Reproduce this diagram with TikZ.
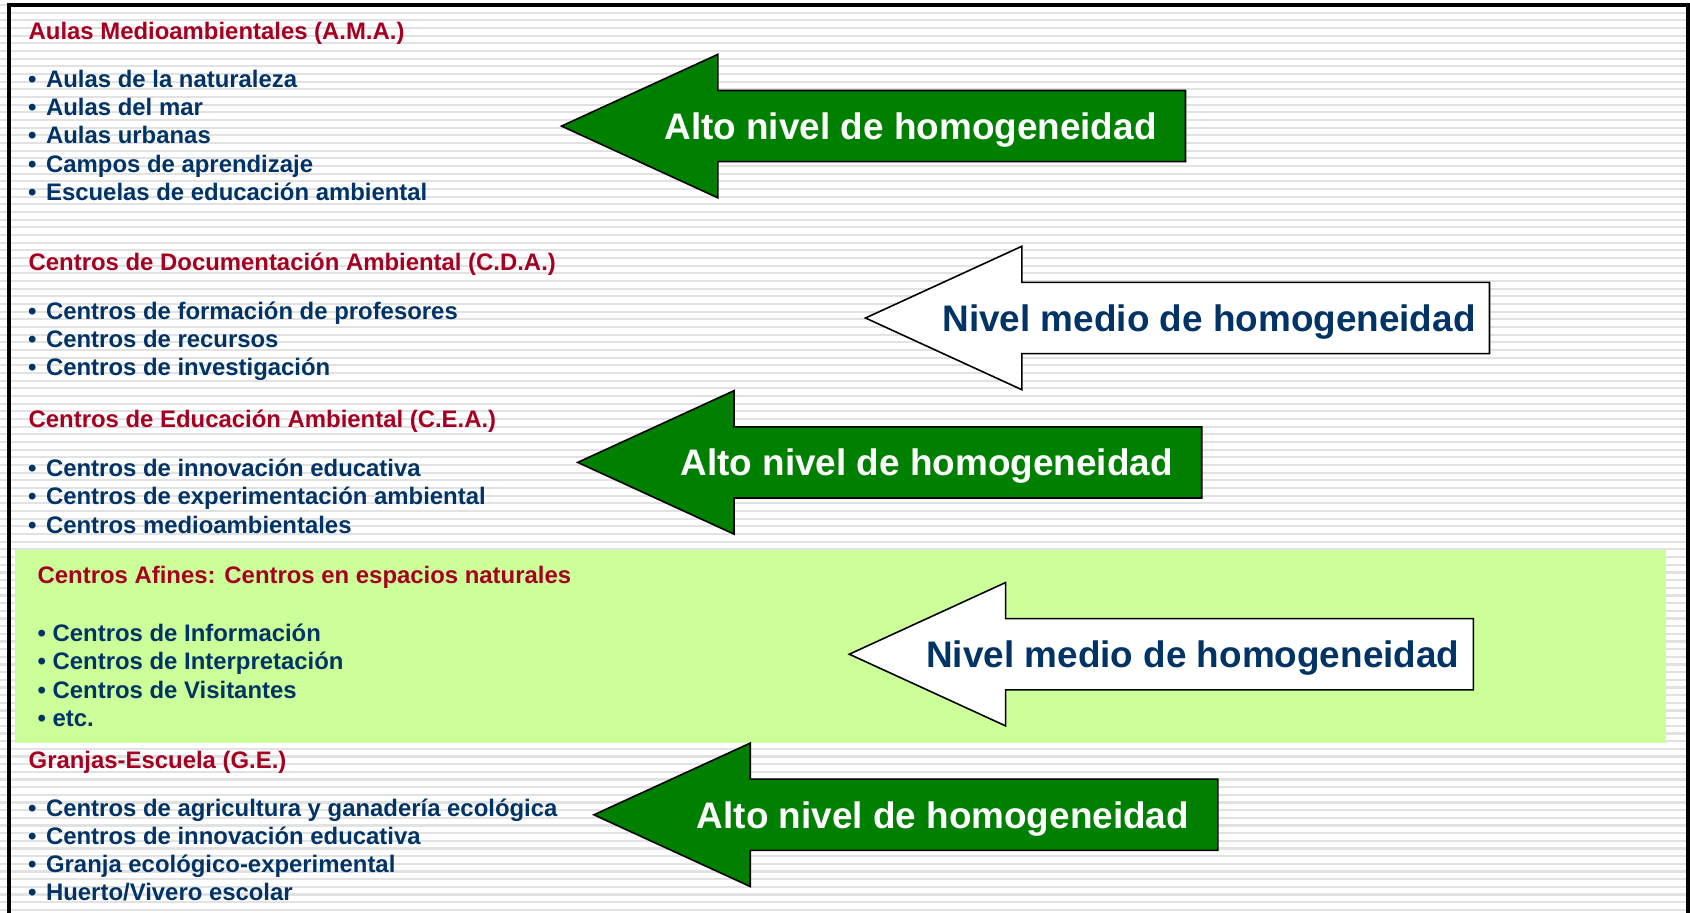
\documentclass[tikz,border=0pt]{standalone}
\usepackage{fontspec}
\usepackage{tkz-euclide}
\setmainfont{Liberation Sans}
\definecolor{headred}{RGB}{165,0,33}
\definecolor{listblue}{RGB}{0,51,102}
\definecolor{arrowgreen}{RGB}{0,128,0}
\definecolor{afinesgreen}{RGB}{204,255,153}
\definecolor{stripegray}{RGB}{226,226,226}
\tikzset{
  header/.style={anchor=base west, inner sep=0pt, text=headred,
    font=\fontsize{6.8}{8}\selectfont\bfseries},
  item/.style={anchor=base west, inner sep=0pt, text=listblue,
    font=\fontsize{6.8}{8}\selectfont\bfseries},
  greenarrow/.style={fill=arrowgreen, draw=black, line width=0.45pt},
  whitearrow/.style={fill=white, draw=black, line width=0.45pt},
  greenlabel/.style={anchor=base, inner sep=0pt, text=white,
    font=\fontsize{10.5}{12}\selectfont\bfseries},
  whitelabel/.style={anchor=base, inner sep=0pt, text=listblue,
    font=\fontsize{10.5}{12}\selectfont\bfseries}
}

\begin{document}
\begin{tikzpicture}
\useasboundingbox (0,0) rectangle (16.9,-9.13);
\clip (0,0) rectangle (16.9,-9.13);
% striped background
\fill[white] (0,0) rectangle (16.9,-9.13);
\foreach \k in {0,...,119}
  \draw[stripegray, line width=0.022cm] (0,{-0.05-0.07667*\k}) -- (16.9,{-0.05-0.07667*\k});
\draw[line width=0.04cm] (0.09,-9.4) -- (0.09,-0.055) -- (16.88,-0.055) -- (16.88,-9.4);
\fill[afinesgreen] (0.15,-5.495) rectangle (16.66,-7.425);
% arrow tips
\tkzDefPoints{5.615/-1.261/T1, 8.655/-3.18/T2, 5.777/-4.624/T3, 8.493/-6.542/T4, 5.939/-8.148/T5}
\foreach \p/\s in {T1/greenarrow, T2/whitearrow, T3/greenarrow, T4/whitearrow, T5/greenarrow}
  \draw[\s] (\p) -- ++(1.563,0.717) -- ++(0,-0.361) -- ++(4.677,0) -- ++(0,-0.712)
    -- ++(-4.677,0) -- ++(0,-0.361) -- cycle;
\node[greenlabel] (alto1) at ([shift={(3.49,-0.135)}]T1) {Alto nivel de homogeneidad};
\node[whitelabel] (medio1) at ([shift={(3.435,-0.135)}]T2) {Nivel medio de homogeneidad};
\node[greenlabel] (alto2) at ([shift={(3.49,-0.135)}]T3) {Alto nivel de homogeneidad};
\node[whitelabel] (medio2) at ([shift={(3.435,-0.135)}]T4) {Nivel medio de homogeneidad};
\node[greenlabel] (alto3) at ([shift={(3.49,-0.135)}]T5) {Alto nivel de homogeneidad};
% headers
\node[header] (ama) at (0.28,-0.40) {Aulas Medioambientales (A.M.A.)};
\node[header] (cda) at (0.28,-2.706) {Centros de Documentación Ambiental (C.D.A.)};
\node[header] (cea) at (0.28,-4.28) {Centros de Educación Ambiental (C.E.A.)};
\node[header] (afines) at (0.37,-5.832) {Centros Afines: Centros en espacios naturales};
\node[header] (ge) at (0.28,-7.685) {Granjas-Escuela (G.E.)};
% lists
\foreach \t [count=\i] in {Aulas de la naturaleza, Aulas del mar, Aulas urbanas,
    Campos de aprendizaje, Escuelas de educación ambiental}
  \node[item] (ama\i) at (0.275,{-0.873-0.283*(\i-1)}) {•\hspace{0.4em}\t};
\foreach \t [count=\i] in {Centros de formación de profesores, Centros de recursos,
    Centros de investigación}
  \node[item] (cda\i) at (0.275,{-3.191-0.283*(\i-1)}) {•\hspace{0.4em}\t};
\foreach \t [count=\i] in {Centros de innovación educativa,
    Centros de experimentación ambiental, Centros medioambientales}
  \node[item] (cea\i) at (0.275,{-4.765-0.283*(\i-1)}) {•\hspace{0.4em}\t};
\foreach \t [count=\i] in {Centros de Información, Centros de Interpretación,
    Centros de Visitantes, etc.}
  \node[item] (afines\i) at (0.37,{-6.414-0.283*(\i-1)}) {• \t};
\foreach \t [count=\i] in {Centros de agricultura y ganadería ecológica,
    Centros de innovación educativa, Granja ecológico-experimental, Huerto/Vivero escolar}
  \node[item] (ge\i) at (0.275,{-8.16-0.283*(\i-1)}) {•\hspace{0.4em}\t};
\end{tikzpicture}
\end{document}
